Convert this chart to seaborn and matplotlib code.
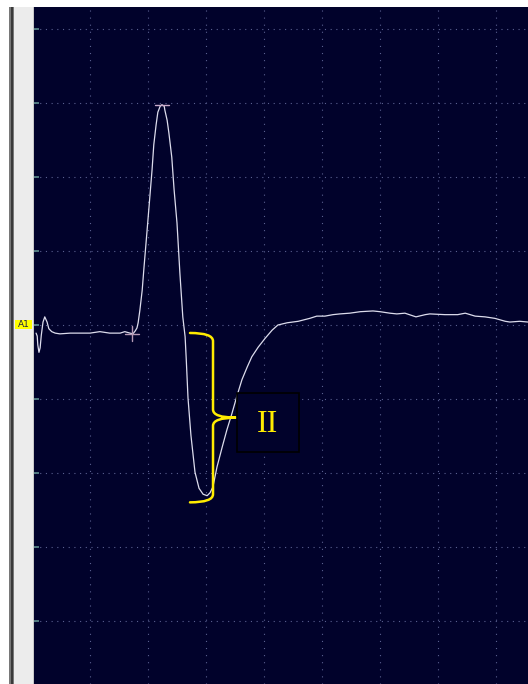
import numpy as np
import pandas as pd
import matplotlib
matplotlib.use("Agg")
import matplotlib.pyplot as plt
from matplotlib.patches import Rectangle, PathPatch
from matplotlib.path import Path
import seaborn as sns

# Recorded trace, in screen divisions (x: time/div, y: amplitude/div)
time_div = [0.07, 0.09, 0.10, 0.12, 0.14, 0.16, 0.19, 0.22, 0.26, 0.29, 0.34, 0.40,
            0.48, 0.66, 0.83, 1.00, 1.17, 1.34, 1.52, 1.60, 1.69, 1.74, 1.78, 1.81,
            1.83, 1.86, 1.90, 1.93, 1.98, 2.02, 2.07, 2.10, 2.14, 2.17, 2.21, 2.24,
            2.28, 2.29, 2.33, 2.36, 2.41, 2.45, 2.50, 2.55, 2.60, 2.64, 2.66, 2.69,
            2.74, 2.81, 2.88, 2.95, 3.02, 3.07, 3.12, 3.19, 3.28, 3.36, 3.45, 3.53,
            3.62, 3.71, 3.79, 3.90, 4.02, 4.14, 4.24, 4.40, 4.59, 4.79, 4.91, 5.05,
            5.19, 5.31, 5.48, 5.66, 5.88, 6.00, 6.17, 6.29, 6.43, 6.62, 6.78, 6.86,
            7.12, 7.34, 7.47, 7.64, 7.81, 7.98, 8.16, 8.24, 8.41, 8.55]
amplitude_div = [-0.11, -0.15, -0.27, -0.37, -0.31, -0.14, 0.04, 0.11, 0.04, -0.05, -0.09, -0.11,
                 -0.12, -0.11, -0.11, -0.11, -0.09, -0.11, -0.11, -0.09, -0.11, -0.12, -0.08, -0.04,
                 0.03, 0.20, 0.47, 0.77, 1.24, 1.62, 2.10, 2.44, 2.71, 2.88, 2.96, 2.98,
                 2.96, 2.91, 2.77, 2.60, 2.27, 1.83, 1.38, 0.70, 0.11, -0.16, -0.47, -0.99,
                 -1.49, -1.99, -2.21, -2.29, -2.31, -2.27, -2.19, -1.92, -1.65, -1.42, -1.19, -0.97,
                 -0.74, -0.57, -0.43, -0.30, -0.18, -0.07, 0.00, 0.03, 0.05, 0.09, 0.12, 0.12,
                 0.14, 0.15, 0.16, 0.18, 0.19, 0.18, 0.16, 0.15, 0.16, 0.11, 0.14, 0.15,
                 0.14, 0.14, 0.16, 0.12, 0.11, 0.09, 0.05, 0.04, 0.05, 0.04]

onset_index = 21          # cursor placed at the start of the response
channel_label = "A1"
phase_label = "II"

x_grid = [1, 2, 3, 4, 5, 6, 7, 8]
y_grid = [-4, -3, -2, -1, 0, 1, 2, 3, 4]

W, H, DPI = 528, 684, 100
BG = "#01022b"
YELLOW = "#ffec00"

sns.set_style("dark", {"axes.facecolor": BG, "figure.facecolor": "white",
                       "axes.grid": False})
plt.rcParams["lines.scale_dashes"] = False

fig = plt.figure(figsize=(W / DPI, H / DPI), dpi=DPI)
ax = fig.add_axes([34 / W, 0, (W - 34) / W, (H - 7) / H])
ax.set_xlim(0.0345, 8.552)
ax.set_ylim(-4.858, 4.303)

# dotted graticule
for gx in x_grid:
    ax.axvline(gx, color="#5a6090", lw=0.8, ls=(0, (0.8, 4.3)), zorder=1)
for gy in y_grid:
    ax.axhline(gy, color="#5a6090", lw=0.8, ls=(0, (0.8, 3.3)), zorder=1)

# small scale ticks on the left edge
ax.hlines(y_grid, 0, 5 / (W - 34), transform=ax.get_yaxis_transform(),
          color="#5f8f8f", lw=1.2, zorder=3)

df = pd.DataFrame({"t": time_div, "v": amplitude_div})
sns.lineplot(data=df, x="t", y="v", ax=ax, color="#dcdcec", lw=0.9,
             estimator=None, sort=False, zorder=4)

# peak and onset cursors
ipk = int(np.argmax(amplitude_div))
ax.plot([time_div[ipk] - 0.12, time_div[ipk] + 0.12], [amplitude_div[ipk]] * 2,
        color="#c9aac9", lw=1.0, zorder=5)
tx, ty = time_div[onset_index], amplitude_div[onset_index]
ax.plot([tx - 0.13, tx + 0.11], [ty, ty], color="#b59ab5", lw=1.0, zorder=5)
ax.plot([tx - 0.01, tx - 0.01], [ty + 0.1, ty - 0.1], color="#b59ab5", lw=1.0, zorder=5)

# curly bracket spanning baseline to trough
ymin = min(amplitude_div) - 0.09
ytop = -0.108
ymid = (ytop + ymin) / 2
x0, xs, xt = 2.724, 3.121, 3.517
c = 0.11
verts = [(x0, ytop), (xs, ytop), (xs, ytop - c),
         (xs, ymid + c),
         (xs, ymid), (xt, ymid),
         (xs, ymid), (xs, ymid - c),
         (xs, ymin + c),
         (xs, ymin), (x0, ymin)]
codes = [Path.MOVETO, Path.CURVE3, Path.CURVE3,
         Path.LINETO,
         Path.CURVE3, Path.CURVE3,
         Path.CURVE3, Path.CURVE3,
         Path.LINETO,
         Path.CURVE3, Path.CURVE3]
ax.add_patch(PathPatch(Path(verts, codes), fill=False, edgecolor=YELLOW,
                       lw=1.8, zorder=6, capstyle="round", joinstyle="round"))

# labelled box
ax.add_patch(Rectangle((3.534, -1.719), 1.069, 0.799, facecolor=BG,
                       edgecolor="black", lw=1.2, zorder=6))
ax.text(4.069, -1.35, phase_label, color=YELLOW, fontsize=23,
        family=["Liberation Serif", "DejaVu Serif"], ha="center", va="center",
        zorder=7)

ax.set_xticks([])
ax.set_yticks([])
ax.set_xlabel("")
ax.set_ylabel("")
for s in ax.spines.values():
    s.set_visible(False)

# left instrument strip
def fig_rect(x0p, x1p, color):
    fig.add_artist(Rectangle((x0p / W, 0), (x1p - x0p) / W, (H - 7) / H,
                             transform=fig.transFigure, facecolor=color,
                             edgecolor="none", zorder=0))

fig_rect(9, 14, "#787878")
fig_rect(10.5, 12.5, "#3a3a3a")
fig_rect(14, 33, "#ececec")
fig_rect(32.5, 34, "#c8c8c8")

# channel marker
fig.add_artist(Rectangle((15 / W, (H - 329) / H), 17 / W, 9 / H,
                         transform=fig.transFigure, facecolor="#ffff00",
                         edgecolor="none", zorder=2))
fig.text(23.5 / W, (H - 324.5) / H, channel_label, fontsize=6.5, color="#202040",
         ha="center", va="center", zorder=3)

fig.savefig("out.png", dpi=DPI)
